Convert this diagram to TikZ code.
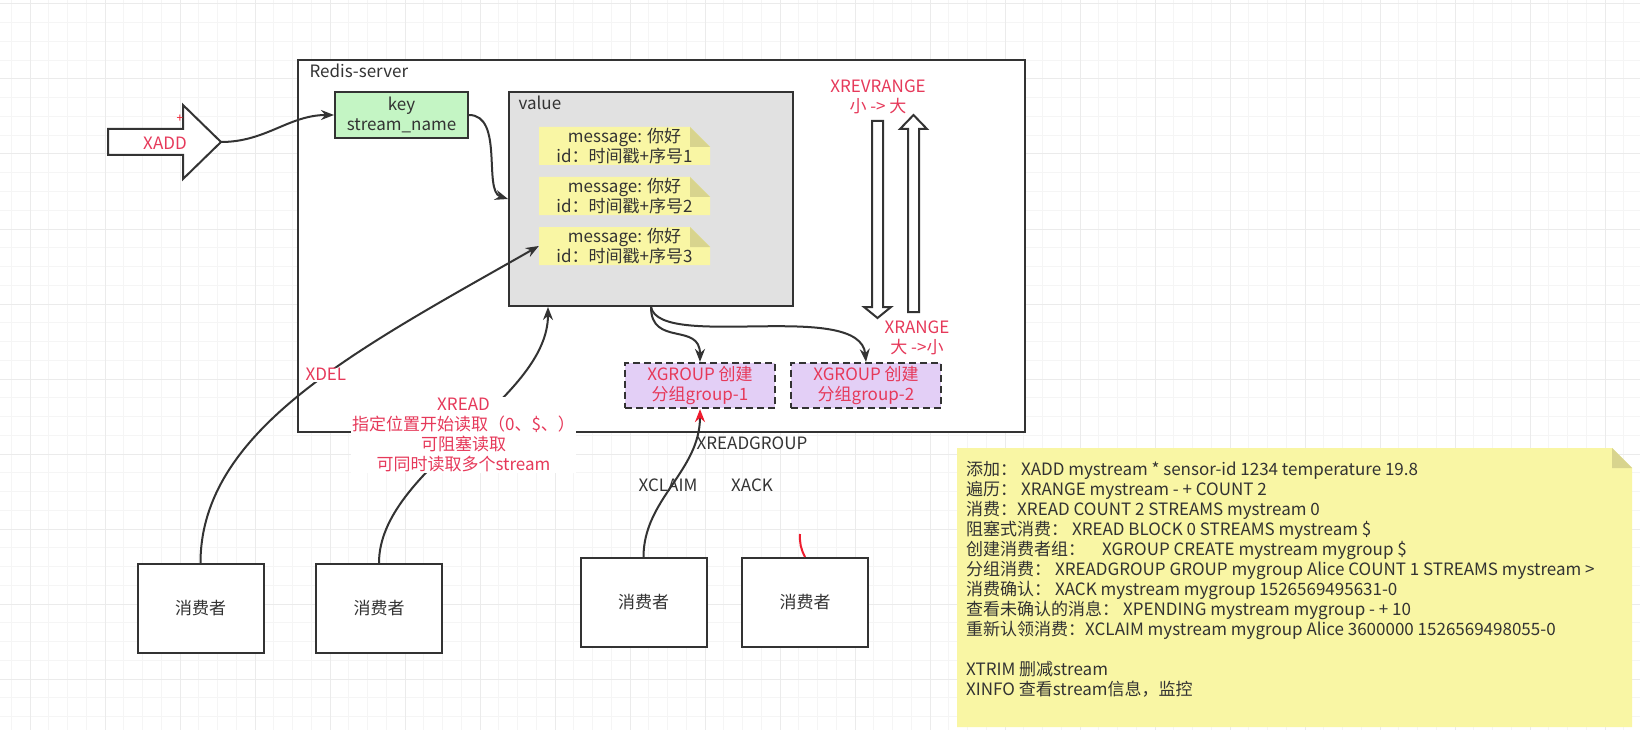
\documentclass[tikz,border=0pt]{standalone}
\usepackage{fontspec}
\setmainfont{Noto Sans CJK SC}
\usetikzlibrary{arrows.meta,positioning}
\definecolor{ink}{HTML}{333333}
\definecolor{xred}{HTML}{E6395A}
\definecolor{tipred}{HTML}{EE1C2E}
\definecolor{keygreen}{HTML}{C4F5C4}
\definecolor{valgray}{HTML}{E1E1E1}
\definecolor{noteyellow}{HTML}{F9F6A4}
\definecolor{notefold}{HTML}{D8D48E}
\definecolor{grouppurple}{HTML}{E3CFF6}
\begin{document}
\begin{tikzpicture}[x=1pt,y=-1pt,font={\fontsize{17}{20}\selectfont},
	every node/.style={text=ink},
	line/.style={draw=ink,line width=2pt},
	conn/.style={line,-{Stealth[length=13pt,width=10pt]}},
	consumer/.style={line,fill=white,minimum width=126pt,minimum height=89pt},
	group/.style={line,dash pattern=on 7pt off 4pt,fill=grouppurple,minimum width=150pt,minimum height=45pt,align=center,text=xred},
	lbl/.style={fill=white,inner sep=1pt,align=center,text=xred},
	minorgrid/.style={draw=black!4,line width=1pt},
	majorgrid/.style={draw=black!8,line width=1pt}]
	\useasboundingbox[fill=white] (0,0) rectangle (1640,730);
	\foreach \i in {0,...,87} \draw[minorgrid] ({11.25+18.75*\i},0) -- ++(0,730);
	\foreach \i in {0,...,39} \draw[minorgrid] (0,{4+18.75*\i}) -- ++(1640,0);
	\foreach \i in {0,...,21} \draw[majorgrid] ({30+75*\i},0) -- ++(0,730);
	\foreach \i in {0,...,9} \draw[majorgrid] (0,{4+75*\i}) -- ++(1640,0);

	\node[line,fill=white,minimum width=727pt,minimum height=372pt] (server) at (661.5,246) {};
	\node[anchor=west] (servername) at (306,71) {Redis-server};
	\node[line,fill=keygreen,minimum width=133pt,minimum height=46pt,align=center] (key) at (401.5,115) {key\\stream\_name};
	\node[line,fill=valgray,minimum width=284pt,minimum height=214pt] (value) at (651,199) {};
	\node[anchor=west] (valuename) at (515,103) {value};
	\foreach \i/\y in {1/146,2/196,3/246}{
		\fill[noteyellow] (539,\y-19) -- (690,\y-19) -- (710,\y+1) -- (710,\y+19) -- (539,\y+19) -- cycle;
		\fill[notefold] (690,\y-19) -- (690,\y+1) -- (710,\y+1) -- cycle;
		\node[align=center,minimum width=171pt] (msg\i) at (624.5,\y) {message: 你好\\id：时间戳+序号\i};
	}

	\draw[line,fill=white] (108,129) -- (183,129) -- (183,105) -- (221,142) -- (183,179) -- (183,155) -- (108,155) -- cycle;
	\coordinate (xaddtip) at (221,142);
	\node[text=xred] (xadd) at (165,143) {XADD};
	\node[text=tipred,inner sep=0,font={\fontsize{12}{12}\selectfont}] (plus) at (180,119) {+};

	\draw[line,fill=white] (872,121) -- (883,121) -- (883,307) -- (891,307) -- (877.5,318) -- (864,307) -- (872,307) -- cycle;
	\draw[line,fill=white] (908,312) -- (919,312) -- (919,129) -- (927,129) -- (913.5,115) -- (900,129) -- (908,129) -- cycle;
	\node[text=xred,align=center] (revlbl) at (878,97) {XREVRANGE\\小 -> 大};
	\node[text=xred,align=center] (rangelbl) at (917,338) {XRANGE\\大 ->小};

	\node[group] (g1) at (700,385.5) {XGROUP 创建\\分组group-1};
	\node[group] (g2) at (866,385.5) {XGROUP 创建\\分组group-2};

	\node[consumer] (c1) at (200.5,608.5) {消费者};
	\node[consumer] (c2) at (379,608.5) {消费者};
	\node[consumer] (c3) at (643.5,602.5) {消费者};
	\node[consumer] (c4) at (805,602.5) {消费者};

	\draw[conn] (xaddtip) .. controls +(45,0) and +(-45,0) .. (key.west);
	\draw[conn] (key.east) .. controls +(35,0) and +(-25,-8) .. (value.west);
	\draw[conn] (c1.north) .. controls +(0,-134) and +(-179,102) .. (msg3.west) node[lbl,pos=.56] {XDEL};
	\draw[conn] (c2.north) .. controls +(0,-94) and +(0,94) .. ([xshift=-103pt]value.south) node[lbl,pos=.5] {XREAD\\指定位置开始读取（0、\$、）\\可阻塞读取\\可同时读取多个stream};
	\draw[conn] (value.south) .. controls +(0,40) and +(0,-40) .. (g1.north);
	\draw[conn] (value.south) .. controls +(9,44) and +(-6,-63) .. (g2.north);
	\draw[line,-{Stealth[length=13pt,width=10pt,color=tipred]}] (c3.north) .. controls +(0,-58) and +(0,62) .. (g1.south);
	\node (rglbl) at (752,443) {XREADGROUP};
	\node (claimlbl) at (668,485) {XCLAIM};
	\node (acklbl) at (752,485) {XACK};
	\coordinate (ackend) at (800,534);
	\draw[draw=tipred,line width=2pt] (c4.north) to[bend left=15] (ackend);

	\fill[noteyellow] (957,448) -- (1612,448) -- (1632,468) -- (1632,727) -- (957,727) -- cycle;
	\fill[notefold] (1612,448) -- (1612,468) -- (1632,468) -- cycle;
	\node[anchor=north west,align=left,inner sep=0] (cmds) at (966,461) {添加： XADD mystream * sensor-id 1234 temperature 19.8\\
		遍历： XRANGE mystream - + COUNT 2\\
		消费：XREAD COUNT 2 STREAMS mystream 0\\
		阻塞式消费： XREAD BLOCK 0 STREAMS mystream \$\\
		创建消费者组：\quad XGROUP CREATE mystream mygroup \$\\
		分组消费： XREADGROUP GROUP mygroup Alice COUNT 1 STREAMS mystream >\\
		消费确认： XACK mystream mygroup 1526569495631-0\\
		查看未确认的消息： XPENDING mystream mygroup - + 10\\
		重新认领消费：XCLAIM mystream mygroup Alice 3600000 1526569498055-0\\[20pt]
		XTRIM 删减stream\\
		XINFO 查看stream信息，监控};
\end{tikzpicture}
\end{document}
